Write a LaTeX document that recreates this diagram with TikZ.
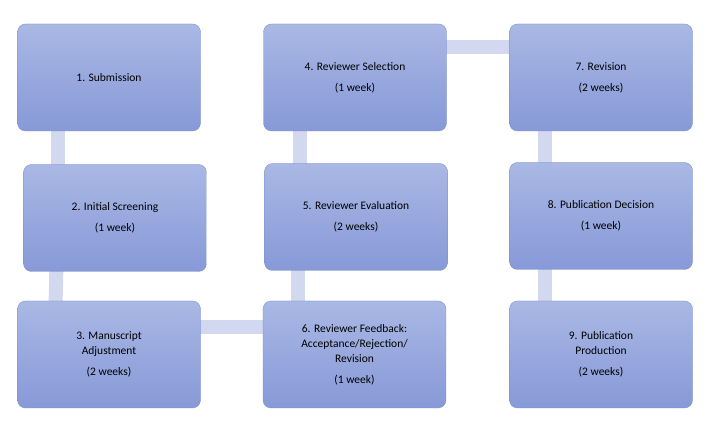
\documentclass[tikz,border=0pt]{standalone}
\usepackage{fontspec}
\setmainfont{Carlito}
\begin{document}
\begin{tikzpicture}[x=1pt,y=-1pt,
  box/.style={rounded corners=8pt,minimum width=183pt,minimum height=107pt,
    top color=boxtop,bottom color=boxbot,draw=boxbot!90!black,line width=0.3pt,
    align=center,font=\fontsize{11.5}{15}\selectfont,text=black,inner sep=2pt},
  conn/.style={line width=14pt,color=connc}]
\definecolor{boxtop}{HTML}{A9B8E4}
\definecolor{boxbot}{HTML}{8799D8}
\definecolor{connc}{HTML}{D2D8EF}
\useasboundingbox (0,0) rectangle (718,430);
\coordinate (c0) at (0,0);
% connectors
\node[coordinate] (k1) at (58,100) {};
\draw[conn] (58,100) -- (58,200);
\draw[conn] (57,240) -- (55,330);
\draw[conn] (180,327) -- (290,327);
\draw[conn] (300,100) -- (300,200);
\draw[conn] (298,240) -- (298,330);
\draw[conn] (420,47) -- (540,47);
\draw[conn] (545,100) -- (545,200);
\draw[conn] (545,240) -- (545,330);
% boxes
\node[box] (n1) at (109,77.5) {1. Submission};
\node[box] (n2) at (115,218) {2. Initial Screening\\[6pt](1 week)};
\node[box] (n3) at (109,354.5) {3. Manuscript\\Adjustment\\[6pt](2 weeks)};
\node[box] (n4) at (355,77.5) {4. Reviewer Selection\\[6pt](1 week)};
\node[box] (n5) at (356,217) {5. Reviewer Evaluation\\[6pt](2 weeks)};
\node[box] (n6) at (354.5,354.5) {6. Reviewer Feedback:\\Acceptance/Rejection/\\Revision\\[6pt](1 week)};
\node[box] (n7) at (601,77.5) {7. Revision\\[6pt](2 weeks)};
\node[box] (n8) at (601,216) {8. Publication Decision\\[6pt](1 week)};
\node[box] (n9) at (601,354.5) {9. Publication\\Production\\[6pt](2 weeks)};
\end{tikzpicture}
\end{document}
